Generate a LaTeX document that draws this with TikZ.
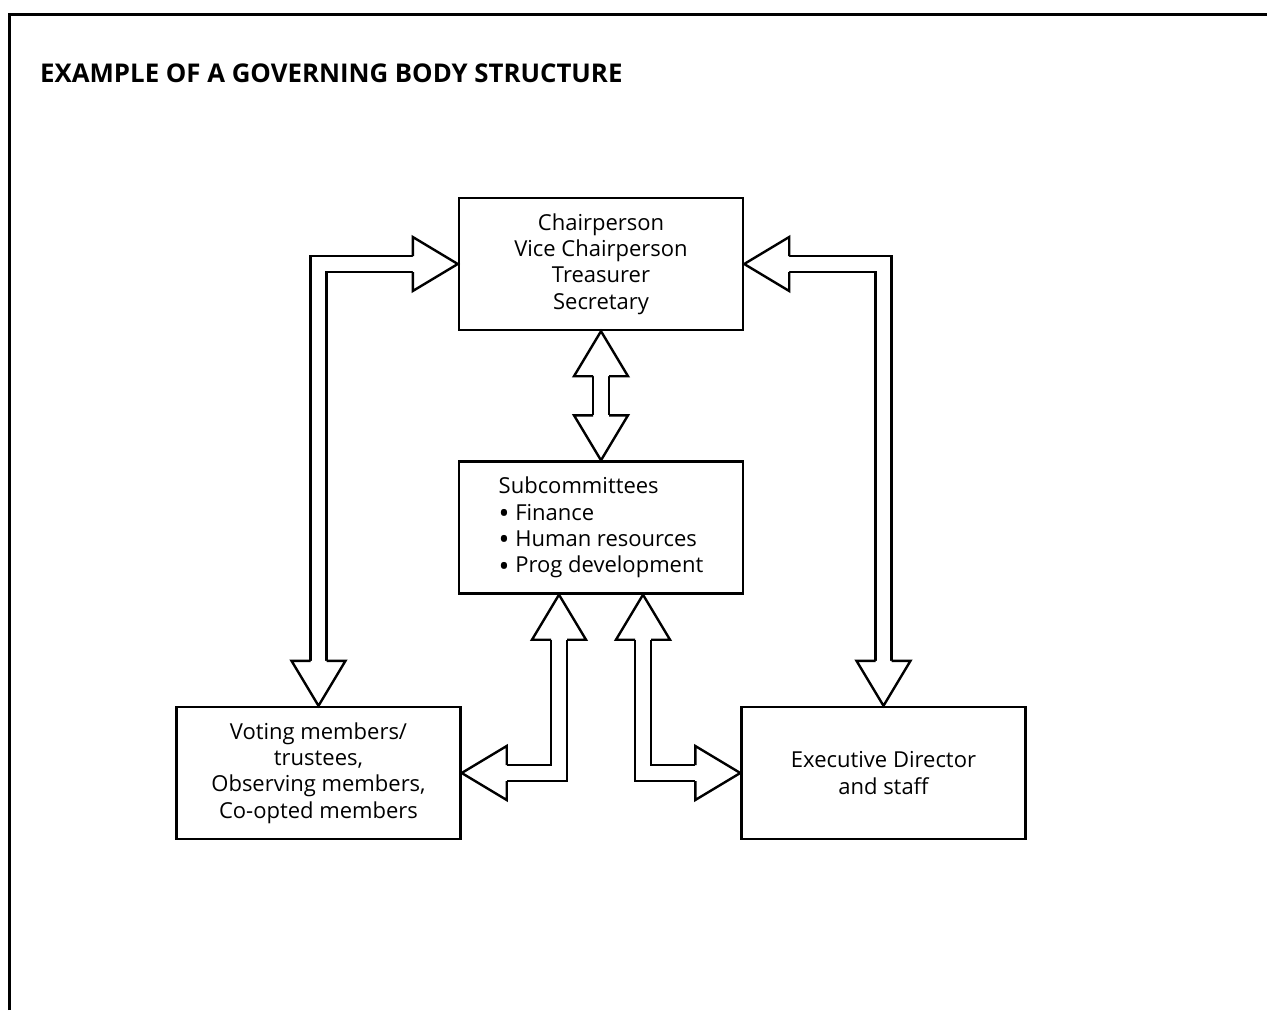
\documentclass[tikz,border=0pt]{standalone}
\usepackage{fontspec}
\setmainfont{Open Sans}
\usetikzlibrary{calc}
\newcommand\bul{\raisebox{-3.6pt}{\fontsize{29}{26.3}\selectfont\textbullet}\ }
\begin{document}
\begin{tikzpicture}[x=1pt,y=-1pt,
  box/.style={draw,line width=2.4pt,minimum width=284pt,minimum height=132pt,
    align=center,inner sep=0pt,font=\fontsize{22}{26.3}\selectfont},
  shaft/.style={line width=2.4pt,double=white,double distance=13.6pt,line join=miter},
  tiphead/.pic={\draw[line width=2.4pt,fill=white,line join=miter]
    (-45,8) -- (-45,27) -- (0,0) -- (-45,-27) -- (-45,-8);},
  frame/.style={line width=3pt}
]
\useasboundingbox (0,0) rectangle (1267,1010);
\draw[frame] (9,1010) |- (1267,14);
\node[anchor=base west,inner sep=0pt,font=\fontsize{25.8}{30}\selectfont\bfseries] (title)
  at (40,82) {EXAMPLE OF A GOVERNING BODY STRUCTURE};

\node[box] (chair) at (601,264) {Chairperson\\Vice Chairperson\\Treasurer\\Secretary};
\node[box,align=left] (sub) at (601,527.5)
  {Subcommittees\\\bul Finance\\\bul Human resources\\\bul Prog development};
\node[box] (voting) at (318.5,773)
  {Voting members/\\trustees,\\Observing members,\\Co-opted members};
\node[box] (exec) at (883.5,773) {Executive Director\\and staff};
\coordinate (subL) at ($(sub.south)+(-42,0)$);
\coordinate (subR) at ($(sub.south)+(42,0)$);

\draw[shaft] ($(chair.south)+(0,45)$) -- ($(sub.north)+(0,-45)$);
\draw[shaft] ($(chair.west)+(-45,0)$) -| ($(voting.north)+(0,-45)$);
\draw[shaft] ($(chair.east)+(45,0)$) -| ($(exec.north)+(0,-45)$);
\draw[shaft] ($(subL)+(0,45)$) |- ($(voting.east)+(45,0)$);
\draw[shaft] ($(subR)+(0,45)$) |- ($(exec.west)+(-45,0)$);

\pic[rotate=90] at (chair.south) {tiphead};
\pic[rotate=-90] at (sub.north) {tiphead};
\pic at (chair.west) {tiphead};
\pic[rotate=-90] at (voting.north) {tiphead};
\pic[rotate=180] at (chair.east) {tiphead};
\pic[rotate=-90] at (exec.north) {tiphead};
\pic[rotate=90] at (subL) {tiphead};
\pic[rotate=180] at (voting.east) {tiphead};
\pic[rotate=90] at (subR) {tiphead};
\pic at (exec.west) {tiphead};
\end{tikzpicture}
\end{document}
